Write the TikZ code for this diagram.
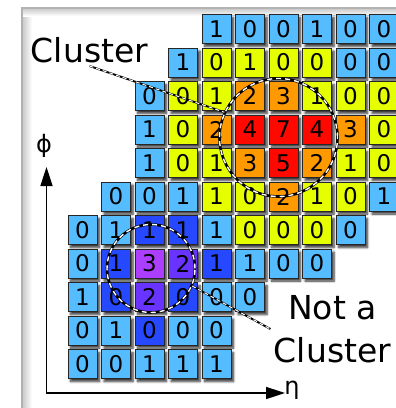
\documentclass[tikz,border=0pt]{standalone}
\usepackage{fontspec}
\setmainfont{DejaVu Sans}
\usetikzlibrary{arrows.meta,shadows.blur}

\definecolor{cellB}{RGB}{85,188,255}
\definecolor{cellY}{RGB}{230,255,0}
\definecolor{cellO}{RGB}{255,153,0}
\definecolor{cellR}{RGB}{255,8,0}
\definecolor{cellD}{RGB}{38,72,255}
\definecolor{cellV}{RGB}{105,52,255}
\definecolor{cellP}{RGB}{172,62,255}

\begin{document}
\begin{tikzpicture}[x=1pt, y=-1pt,
    cell/.style={draw=black!85, line width=0.6pt, minimum size=29pt, inner sep=0pt,
      font=\fontsize{23}{23}\selectfont,
      blur shadow={shadow xshift=2.5pt, shadow yshift=-3pt, shadow opacity=80, shadow blur steps=6}},
    ring/.style={circle, draw=white, line width=1.4pt, dash pattern=on 5pt off 4pt, inner sep=0pt,
      preaction={draw=black, solid, line width=2.6pt}},
    lead/.style={draw=white, line width=1pt, dash pattern=on 4pt off 3pt,
      preaction={draw=black, solid, line width=1.9pt}},
    tag/.style={font=\fontsize{33}{43}\selectfont, align=center},
    axis/.style={line width=1.6pt, {Triangle[length=19pt,width=12pt]}-{Triangle[length=19pt,width=12pt]}}]
    \useasboundingbox (0,0) rectangle (396,408);
    % frame
    \shade[left color=black!22, right color=white] (22,8) rectangle (32,440);
    \shade[top color=black!22, bottom color=white] (22,8) rectangle (440,16);
    \draw[gray!60, line width=1.5pt] (22,8) rectangle (440,440);
    % cells, one row at a time
    \foreach \v/\k [count=\i from 4] in {1/B,0/B,0/B,1/B,0/B,0/B}
        \node[cell, fill=cell\k] (a\i) at ({82.5+33.5*\i},29) {\v};
    \foreach \v/\k [count=\i from 3] in {1/B,0/Y,1/Y,0/Y,0/Y,0/B,0/B}
        \node[cell, fill=cell\k] (b\i) at ({82.5+33.5*\i},62.5) {\v};
    \foreach \v/\k [count=\i from 2] in {0/B,0/Y,1/Y,2/O,3/O,1/Y,0/Y,0/Y}
        \node[cell, fill=cell\k] (c\i) at ({82.5+33.5*\i},96) {\v};
    \foreach \v/\k [count=\i from 2] in {1/B,0/Y,2/O,4/R,7/R,4/R,3/O,0/Y}
        \node[cell, fill=cell\k] (d\i) at ({82.5+33.5*\i},129.5) {\v};
    \foreach \v/\k [count=\i from 2] in {1/B,0/Y,1/Y,3/O,5/R,2/O,1/Y,0/Y}
        \node[cell, fill=cell\k] (e\i) at ({82.5+33.5*\i},163) {\v};
    \foreach \v/\k [count=\i from 1] in {0/B,0/B,1/B,1/Y,0/Y,2/O,1/Y,0/Y,1/B}
        \node[cell, fill=cell\k] (f\i) at ({82.5+33.5*\i},196.5) {\v};
    \foreach \v/\k [count=\i from 0] in {0/B,1/B,1/D,1/D,1/B,0/Y,0/Y,0/Y,0/B}
        \node[cell, fill=cell\k] (g\i) at ({82.5+33.5*\i},230) {\v};
    \foreach \v/\k [count=\i from 0] in {0/B,1/D,3/P,2/V,1/D,1/B,0/B,0/B}
        \node[cell, fill=cell\k] (h\i) at ({82.5+33.5*\i},263.5) {\v};
    \foreach \v/\k [count=\i from 0] in {1/B,0/D,2/V,0/D,0/B,0/B}
        \node[cell, fill=cell\k] (i\i) at ({82.5+33.5*\i},297) {\v};
    \foreach \v/\k [count=\i from 0] in {0/B,1/B,0/D,0/B,0/B}
        \node[cell, fill=cell\k] (j\i) at ({82.5+33.5*\i},330.5) {\v};
    \foreach \v/\k [count=\i from 0] in {0/B,0/B,1/B,1/B,1/B}
        \node[cell, fill=cell\k] (k\i) at ({82.5+33.5*\i},364) {\v};
    % rings and labels
    \node[ring, minimum size=118pt] (bigring) at (278.5,137.5) {};
    \node[ring, minimum size=88pt] (smallring) at (151,268.5) {};
    \node[tag, anchor=base] (clustertag) at (89.5,62) {Cluster};
    \node[tag] (notatag) at (332.5,329) {Not a\\Cluster};
    \draw[lead] (clustertag.south) -- (bigring.155);
    \draw[lead] (smallring.-23) -- (notatag.west);
    % axes
    \coordinate (origin) at (46.5,393);
    \coordinate (phitip) at (46.5,167);
    \coordinate (etatip) at (285,393);
    \draw[axis] (phitip) -- (origin) -- (etatip);
    \node[font=\fontsize{24}{24}\selectfont] (philbl) at (44,146) {ϕ};
    \node[font=\fontsize{24}{24}\selectfont] (etalbl) at (292,390) {η};
\end{tikzpicture}
\end{document}
